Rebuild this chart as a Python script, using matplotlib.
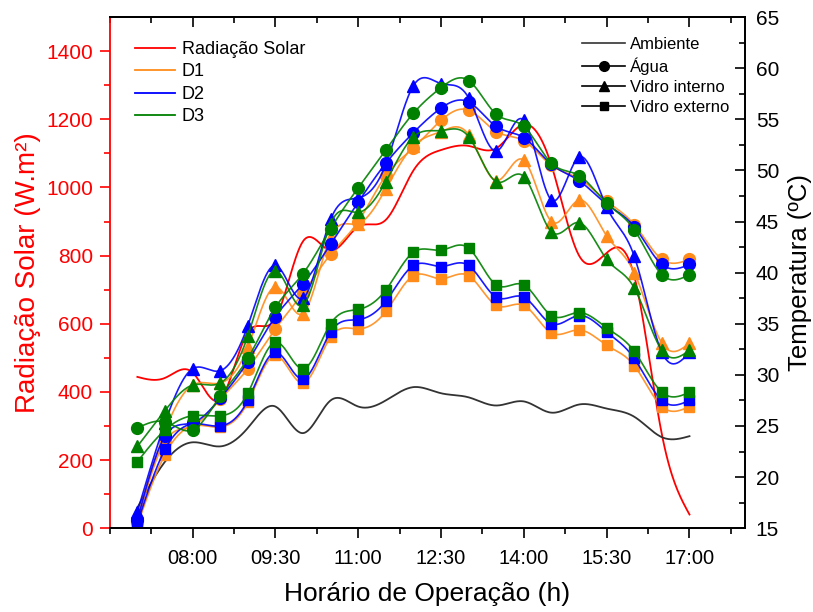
import numpy as np
import matplotlib
matplotlib.use("Agg")
import matplotlib.pyplot as plt
from matplotlib.lines import Line2D

plt.rcParams['font.family'] = ['Liberation Sans', 'DejaVu Sans']

# Horários de medição (h) - a cada 30 min
horas = [7.0, 7.5, 8.0, 8.5, 9.0, 9.5, 10.0, 10.5, 11.0, 11.5, 12.0,
         12.5, 13.0, 13.5, 14.0, 14.5, 15.0, 15.5, 16.0, 16.5, 17.0]
xticks = [8.0, 9.5, 11.0, 12.5, 14.0, 15.5, 17.0]
xtick_labels = ['08:00', '09:30', '11:00', '12:30', '14:00', '15:30', '17:00']

# Radiação solar (W/m2)
radiacao = [444, 441, 457, 378, 575, 615, 842, 815, 885, 905, 1050,
            1110, 1122, 1115, 1185, 1065, 800, 808, 740, 275, 40]

# Temperatura ambiente (ºC)
ambiente = [17.0, 21.5, 23.4, 23.0, 24.8, 26.9, 24.3, 27.5, 26.9, 27.5, 28.8,
            28.2, 27.8, 27.0, 27.4, 26.3, 27.1, 26.7, 25.9, 23.9, 24.0]

# D1
d1_agua = [15.6, 23.5, 25.0, 27.6, 30.6, 34.5, 38.0, 41.8, 45.0, 49.5, 52.2,
           54.9, 55.9, 53.8, 52.9, 50.5, 49.2, 47.0, 44.7, 41.3, 41.3]
d1_vint = [16.0, 24.5, 29.0, 29.2, 32.7, 38.6, 36.0, 43.5, 44.8, 48.2, 52.4,
           53.8, 53.5, 49.0, 51.0, 45.0, 47.1, 43.6, 40.0, 33.1, 33.1]
d1_vext = [15.3, 22.2, 25.0, 24.9, 27.3, 31.9, 29.2, 33.7, 34.5, 36.2, 39.7,
           39.4, 39.7, 36.8, 36.8, 34.1, 34.4, 32.9, 30.9, 26.9, 26.9]

# D2
d2_agua = [15.8, 24.0, 25.3, 27.7, 31.3, 35.7, 38.9, 42.8, 46.9, 50.7, 53.7,
           56.1, 56.7, 54.3, 53.2, 50.6, 49.0, 46.7, 44.5, 40.8, 40.8]
d2_vint = [16.6, 25.3, 30.6, 30.4, 34.8, 40.7, 37.5, 45.2, 47.3, 50.6, 58.3,
           58.5, 57.1, 51.9, 54.9, 47.1, 51.3, 46.4, 41.6, 32.2, 32.2]
d2_vext = [15.5, 22.7, 25.2, 25.0, 27.5, 32.2, 29.6, 34.2, 35.4, 37.2, 40.7,
           40.6, 40.7, 37.6, 37.6, 35.0, 35.8, 34.2, 31.6, 27.5, 27.5]

# D3
d3_agua = [24.8, 25.4, 24.6, 27.9, 31.6, 36.6, 39.9, 44.3, 48.3, 52.0, 55.6,
           58.1, 58.8, 55.5, 54.3, 50.7, 49.5, 46.8, 44.2, 39.8, 39.8]
d3_vint = [23.0, 26.5, 29.0, 29.2, 33.8, 40.2, 36.8, 44.8, 45.9, 48.9, 53.3,
           53.9, 53.3, 48.9, 49.4, 44.0, 44.9, 41.3, 38.5, 32.4, 32.4]
d3_vext = [21.5, 24.6, 26.0, 26.0, 28.2, 33.2, 30.6, 35.0, 36.4, 38.3, 42.0,
           42.2, 42.4, 38.8, 38.8, 35.8, 36.1, 34.6, 32.3, 28.3, 28.3]

cor_d1 = '#FF8C1A'
cor_d2 = '#0000FF'
cor_d3 = '#008000'


def spline(x, y, num=600):
    # spline cubica natural (como a conexao "Spline" do Origin)
    x = np.asarray(x, float)
    y = np.asarray(y, float)
    n = len(x)
    h = np.diff(x)
    A = np.zeros((n, n))
    b = np.zeros(n)
    A[0, 0] = A[-1, -1] = 1.0
    for i in range(1, n - 1):
        A[i, i - 1] = h[i - 1]
        A[i, i] = 2 * (h[i - 1] + h[i])
        A[i, i + 1] = h[i]
        b[i] = 3 * ((y[i + 1] - y[i]) / h[i] - (y[i] - y[i - 1]) / h[i - 1])
    c = np.linalg.solve(A, b)
    xs = np.linspace(x[0], x[-1], num)
    k = np.clip(np.searchsorted(x, xs) - 1, 0, n - 2)
    dx = xs - x[k]
    bk = (y[k + 1] - y[k]) / h[k] - h[k] * (2 * c[k] + c[k + 1]) / 3
    dk = (c[k + 1] - c[k]) / (3 * h[k])
    return xs, y[k] + bk * dx + c[k] * dx ** 2 + dk * dx ** 3


fig = plt.figure(figsize=(8.13, 6.12), dpi=100)
ax = fig.add_axes([0.135, 0.137, 0.781, 0.835])
ax2 = ax.twinx()

# radiação no eixo esquerdo
xs, ys = spline(horas, radiacao)
ax.plot(xs, ys, color='red', lw=1.3)

# temperaturas no eixo direito
xs, ys = spline(horas, ambiente)
ax2.plot(xs, ys, color='#333333', lw=1.3)

series = [
    (cor_d1, [(d1_agua, 'o'), (d1_vint, '^'), (d1_vext, 's')]),
    (cor_d2, [(d2_agua, 'o'), (d2_vint, '^'), (d2_vext, 's')]),
    (cor_d3, [(d3_agua, 'o'), (d3_vint, '^'), (d3_vext, 's')]),
]
msize = {'o': 8.5, '^': 9, 's': 7.5}
for cor, grupo in series:
    for vals, mk in grupo:
        xs, ys = spline(horas, vals)
        ax2.plot(xs, ys, color=cor, lw=1.2, alpha=0.9)
        ax2.plot(horas, vals, linestyle='none', marker=mk, ms=msize[mk],
                 color=cor, mec=cor)

# eixos
ax.set_xlim(6.5, 18.0)
ax.set_ylim(0, 1500)
ax2.set_ylim(15, 65)

ax.set_xticks(xticks)
ax.set_xticklabels(xtick_labels)
minx = [v for v in np.arange(6.5, 18.01, 0.75) if v not in xticks]
ax.set_xticks(minx, minor=True)
ax.set_yticks(np.arange(0, 1401, 200))
ax.set_yticks(np.arange(100, 1500, 200), minor=True)
ax2.set_yticks(np.arange(15, 66, 5))
ax2.set_yticks(np.arange(17.5, 65, 5), minor=True)

ax.tick_params(axis='x', which='major', direction='out', length=7, width=1.2,
               labelsize=14.5, pad=8)
ax.tick_params(axis='x', which='minor', direction='out', length=4, width=1.2)
ax.tick_params(axis='y', which='major', direction='out', length=7, width=1.2,
               labelsize=15, colors='red', pad=5)
ax.tick_params(axis='y', which='minor', direction='out', length=4, width=1.2,
               colors='red')
ax2.tick_params(axis='y', which='major', direction='in', length=7, width=1.2,
                labelsize=15, pad=8)
ax2.tick_params(axis='y', which='minor', direction='in', length=4, width=1.2)

top = ax.secondary_xaxis('top')
top.set_xticks(xticks)
top.set_xticks(minx, minor=True)
top.tick_params(which='major', direction='in', length=7, width=1.2, labeltop=False)
top.tick_params(which='minor', direction='in', length=4, width=1.2)
top.spines['top'].set_linewidth(1.3)

for s in ax.spines.values():
    s.set_linewidth(1.3)
for s in ax2.spines.values():
    s.set_linewidth(1.3)
ax.spines['left'].set_color('red')
ax2.spines['left'].set_visible(False)

ax.set_xlabel('Horário de Operação (h)', fontsize=19, labelpad=10)
ax.set_ylabel('Radiação Solar (W.m²)', fontsize=20, color='red', labelpad=4)
ax2.set_ylabel('Temperatura (ºC)', fontsize=18.5, labelpad=6)

# legendas
h_esq = [Line2D([], [], color='red', lw=1.3),
         Line2D([], [], color=cor_d1, lw=1.3),
         Line2D([], [], color=cor_d2, lw=1.3),
         Line2D([], [], color=cor_d3, lw=1.3)]
leg1 = ax2.legend(h_esq, ['Radiação Solar', 'D1', 'D2', 'D3'], loc='upper left',
                  bbox_to_anchor=(0.014, 0.985), frameon=False, fontsize=13,
                  handlelength=2.2, labelspacing=0.3, handletextpad=0.4)
ax2.add_artist(leg1)

h_dir = [Line2D([], [], color='#333333', lw=1.2),
         Line2D([], [], color='black', lw=1.2, marker='o', ms=7),
         Line2D([], [], color='black', lw=1.2, marker='^', ms=7),
         Line2D([], [], color='black', lw=1.2, marker='s', ms=6)]
ax2.legend(h_dir, ['Ambiente', 'Água', 'Vidro interno', 'Vidro externo'],
           loc='upper right', bbox_to_anchor=(1.0, 0.99), frameon=False,
           fontsize=12, handlelength=2.6, labelspacing=0.3, handletextpad=0.3)

fig.savefig('out.png', dpi=100)
